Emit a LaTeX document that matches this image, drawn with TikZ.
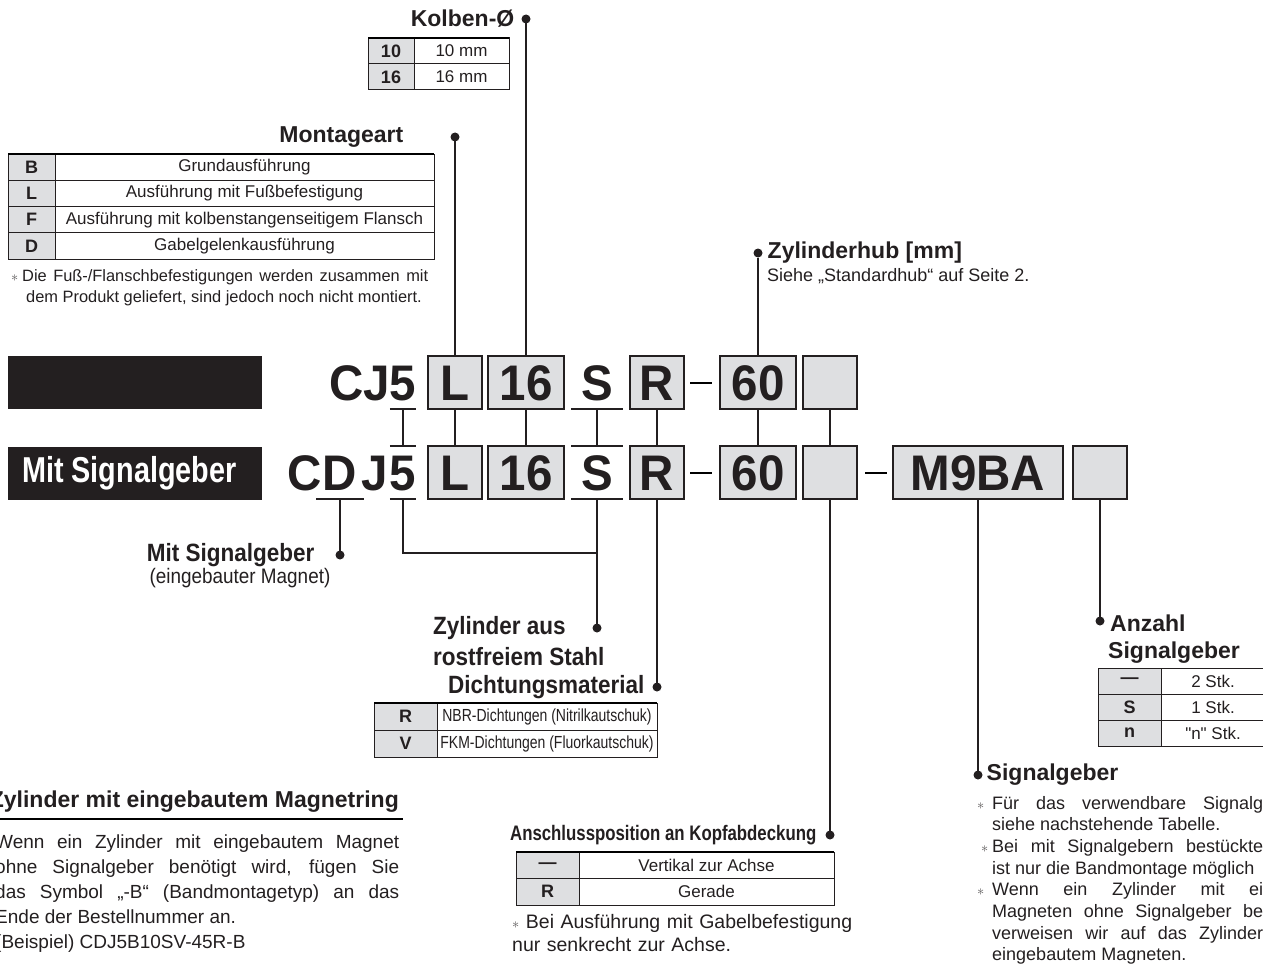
\documentclass[tikz,border=0pt]{standalone}
\usepackage{fontspec}
\setmainfont{Liberation Sans}
\newfontfamily\codefont[FakeStretch=0.95]{Liberation Sans}
\newfontfamily\condfont[FakeStretch=0.9]{Liberation Sans}
\newfontfamily\narrowfont[FakeStretch=0.8]{Liberation Sans}
\newfontfamily\rawfont[Ligatures=ResetAll]{Liberation Sans}
\usetikzlibrary{positioning}
\definecolor{ink}{HTML}{231F20}
\definecolor{boxgray}{HTML}{DEDFE1}

\begin{document}
\begin{tikzpicture}[
    x = 1pt,
    y = -1pt,
    text = ink,
    codechar/.style = {inner sep=0pt, outer sep=0pt, minimum height=53pt,
    text height=36pt, text depth=0pt,
    font=\codefont\bfseries\fontsize{50}{50}\selectfont},
    codebox/.style = {codechar, draw=ink, fill=boxgray, line width=1.6pt},
    lead/.style = {draw=ink, line width=1.6pt},
    knob/.style = {circle, fill=ink, minimum size=9pt, inner sep=0pt, outer sep=0pt},
    heading/.style = {inner sep=0pt, font=\bfseries\fontsize{23}{28}\selectfont},
    condhead/.style = {inner sep=0pt, font=\condfont\bfseries\fontsize{25}{29}\selectfont},
    keycell/.style = {draw=ink, fill=boxgray, line width=1pt, inner sep=0pt,
    outer sep=0pt, anchor=north west, font=\bfseries\fontsize{18}{18}\selectfont},
    valcell/.style = {draw=ink, line width=1pt, inner sep=0pt, outer sep=0pt,
    anchor=north west, font=\fontsize{17}{17}\selectfont},
    remark/.style = {inner sep=0pt, align=justify, anchor=base west},
]
\useasboundingbox (0,0) rectangle (1263,971);
\clip (0,0) rectangle (1263,971);

\node[codechar, anchor=east] (cj) at (390,382.5) {CJ};
\node[codechar, minimum width=26pt] (cj5) at (403,382.5) {5};
\node[codebox, minimum width=54pt] (l1) at (455,382.5) {L};
\node[codebox, minimum width=76pt] (d1) at (526,382.5) {16};
\node[codechar, minimum width=52pt] (s1) at (597,382.5) {S};
\node[codebox, minimum width=54pt] (r1) at (657,382.5) {R};
\node[codebox, minimum width=76pt] (h1) at (758,382.5) {60};
\node[codebox, minimum width=54pt] (e1) at (830,382.5) {};
\draw [line width=2.5pt] (690,383) -- (712,383);

\node[codechar, anchor=east] (c2) at (322,472.5) {C};
\node[codechar, minimum width=48pt] (cd2) at (340,472.5) {D};
\node[codechar] (j2) at (375,472.5) {J};
\node[codechar, minimum width=26pt] (cdj5) at (403,472.5) {5};
\node[codebox, minimum width=54pt] (l2) at (455,472.5) {L};
\node[codebox, minimum width=76pt] (d2) at (526,472.5) {16};
\node[codechar, minimum width=52pt] (s2) at (597,472.5) {S};
\node[codebox, minimum width=54pt] (r2) at (657,472.5) {R};
\node[codebox, minimum width=76pt] (h2) at (758,472.5) {60};
\node[codebox, minimum width=54pt] (e2) at (830,472.5) {};
\node[codebox, minimum width=170pt] (m9ba) at (978,472.5) {M9BA};
\node[codebox, minimum width=54pt] (n2) at (1100,472.5) {};
\draw [line width=2.5pt] (690,473) -- (712,473);
\draw [line width=2.5pt] (865,473) -- (887,473);

\draw[lead] (cj5.south west) -- (cj5.south east);
\draw[lead] (s1.south west) -- (s1.south east);
\draw[lead] (cdj5.north west) -- (cdj5.north east);
\draw[lead] (s2.north west) -- (s2.north east);
\draw[lead] (cd2.south west) -- (cd2.south east);
\draw[lead] (cdj5.south west) -- (cdj5.south east);
\draw[lead] (s2.south west) -- (s2.south east);

\draw[lead] (cj5.south) -- (cdj5.north);
\draw[lead] (l1.south) -- (l2.north);
\draw[lead] (d1.south) -- (d2.north);
\draw[lead] (s1.south) -- (s2.north);
\draw[lead] (r1.south) -- (r2.north);
\draw[lead] (h1.south) -- (h2.north);
\draw[lead] (e1.south) -- (e2.north);

\node[fill=ink, minimum width=254pt, minimum height=53pt, inner sep=0pt,
    anchor=north west] (plain) at (8,356) {};
\node[fill=ink, text=white, text width=226pt, inner xsep=14pt, inner ysep=0pt,
    minimum height=53pt, align=left, anchor=north west,
    font=\narrowfont\bfseries\fontsize{36}{36}\selectfont] (withsw) at (8,447) {Mit\hspace{8pt}Signalgeber};

\node[knob] (kolb) at (526,19) {};
\node[heading, left=7pt of kolb] (kolbtxt) {Kolben-Ø};
\draw[lead] (kolb) -- (d1.north);
\node[keycell, minimum width=46pt, minimum height=26pt] (k10) at (368,38) {10};
\node[valcell, minimum width=95pt, minimum height=26pt] (v10) at (414,38) {10 mm};
\node[keycell, minimum width=46pt, minimum height=26pt] (k16) at (368,64) {16};
\node[valcell, minimum width=95pt, minimum height=26pt] (v16) at (414,64) {16 mm};
\draw [line width=2pt] (k10.north west) -- (v10.north east);

\node[knob] (mont) at (455,137) {};
\node[heading, left=47pt of mont] (monttxt) {Montageart};
\draw[lead] (mont) -- (l1.north);
\node[keycell, minimum width=47pt, minimum height=26.25pt] (kb) at (8,154) {B};
\node[valcell, minimum width=379pt, minimum height=26.25pt] (vb) at (55,154) {Grundausführung};
\node[keycell, minimum width=47pt, minimum height=26.25pt] (kl) at (8,180.25) {L};
\node[valcell, minimum width=379pt, minimum height=26.25pt] (vl) at (55,180.25) {Ausführung mit Fußbefestigung};
\node[keycell, minimum width=47pt, minimum height=26.25pt] (kf) at (8,206.5) {F};
\node[valcell, minimum width=379pt, minimum height=26.25pt] (vf) at (55,206.5) {Ausführung mit kolbenstangenseitigem Flansch};
\node[keycell, minimum width=47pt, minimum height=26.25pt] (kd) at (8,232.75) {D};
\node[valcell, minimum width=379pt, minimum height=26.25pt] (vd) at (55,232.75) {Gabelgelenkausführung};
\draw [line width=2pt] (kb.north west) -- (vb.north east);
\node[remark, text width=406pt, font=\fontsize{16.4}{21}\selectfont] (montnote) at (22,281)
    {\leavevmode\llap{{\color{ink!75}\fontsize{14}{14}\selectfont$\ast$}\hspace{4pt}}Die Fuß-/Flanschbefestigungen werden zusammen mit\linebreak \hspace*{4pt}dem Produkt geliefert, sind jedoch noch nicht montiert.};

\node[knob] (hub) at (758,253) {};
\node[heading, right=5pt of hub] (hubtxt) {Zylinderhub [mm]};
\node[inner sep=0pt, anchor=base west, font=\fontsize{18}{18}\selectfont] (hubnote) at (767,281)
    {Siehe „Standardhub“ auf Seite 2.};
\draw[lead] (hub) -- (h1.north);

\node[knob] (sig) at (340,555) {};
\draw[lead] (cd2.south) -- (sig);
\node[condhead, left=21pt of sig] (sigtxt) {Mit Signalgeber};
\node[inner sep=0pt, font=\condfont\fontsize{21}{21}\selectfont] (sigsub) at (240,578) {(eingebauter Magnet)};

\coordinate (join) at (597,553);
\draw[lead] (cdj5.south) |- (join);
\node[knob] (steel) at (597,628) {};
\draw[lead] (s2.south) -- (steel);
\node[condhead, anchor=west] (steeltxt) at (433,628) {Zylinder aus};
\node[condhead, anchor=west] (steeltxt2) at (433,657) {rostfreiem Stahl};

\node[knob] (seal) at (657,687) {};
\draw[lead] (r2.south) -- (seal);
\node[condhead, left=8pt of seal] (sealtxt) {Dichtungsmaterial};
\node[keycell, minimum width=63pt, minimum height=27pt] (kr) at (374,703) {R};
\node[valcell, minimum width=220pt, minimum height=27pt,
    font=\narrowfont\fontsize{17.5}{17.5}\selectfont] (vr) at (437,703) {NBR-Dichtungen (Nitrilkautschuk)};
\node[keycell, minimum width=63pt, minimum height=27pt] (kv) at (374,730) {V};
\node[valcell, minimum width=220pt, minimum height=27pt,
    font=\narrowfont\fontsize{17.5}{17.5}\selectfont] (vv) at (437,730) {FKM-Dichtungen (Fluorkautschuk)};
\draw [line width=2pt] (kr.north west) -- (vr.north east);

\node[knob] (port) at (830,835) {};
\draw[lead] (e2.south) -- (port);
\node[inner sep=0pt, left=9pt of port, font=\narrowfont\bfseries\fontsize{21}{21}\selectfont] (porttxt)
    {Anschlussposition an Kopfabdeckung};
\node[keycell, minimum width=63pt, minimum height=26.5pt] (kp1) at (516,852) {—};
\node[valcell, minimum width=255pt, minimum height=26.5pt] (vp1) at (579,852) {Vertikal zur Achse};
\node[keycell, minimum width=63pt, minimum height=26.5pt] (kp2) at (516,878.5) {R};
\node[valcell, minimum width=255pt, minimum height=26.5pt] (vp2) at (579,878.5) {Gerade};
\draw [line width=2pt] (kp1.north west) -- (vp1.north east);
\node[remark, text width=345pt, align=left, font=\fontsize{19.5}{23}\selectfont] (portnote) at (512,928)
    {{\color{ink!75}\fontsize{14}{14}\selectfont$\ast$} Bei Ausführung mit Gabelbefestigung\\nur senkrecht zur Achse.};

\node[knob] (count) at (1100,621) {};
\draw[lead] (n2.south) -- (count);
\node[heading, anchor=west] (counttxt) at (1110,623) {Anzahl};
\node[heading, anchor=west] (counttxt2) at (1108,653) {Signalgeber};
\node[keycell, minimum width=63pt, minimum height=26pt] (kc1) at (1098,668) {—};
\node[valcell, minimum width=104pt, minimum height=26pt] (vc1) at (1161,668) {2 Stk.};
\node[keycell, minimum width=63pt, minimum height=26pt] (kc2) at (1098,694) {S};
\node[valcell, minimum width=104pt, minimum height=26pt] (vc2) at (1161,694) {1 Stk.};
\node[keycell, minimum width=63pt, minimum height=26pt] (kc3) at (1098,720) {n};
\node[valcell, minimum width=104pt, minimum height=26pt] (vc3) at (1161,720) {\rawfont"n" Stk.};

\node[knob] (switch) at (978,775) {};
\draw[lead] (m9ba.south) -- (switch);
\node[heading, right=4pt of switch] (switchtxt) {Signalgeber};
\node[remark, text width=271pt, font=\fontsize{18}{21.7}\selectfont] (swnote1) at (992,809)
    {\leavevmode\llap{{\color{ink!75}\fontsize{14}{14}\selectfont$\ast$}\hspace{8pt}}Für das verwendbare Signalg\linebreak siehe nachstehende Tabelle.};
\node[remark, text width=271pt, font=\fontsize{18}{21.7}\selectfont] (swnote2) at (992,852.4)
    {\leavevmode\llap{{\color{ink!75}\fontsize{14}{14}\selectfont$\ast$}\hspace{4pt}}Bei mit Signalgebern bestückte\linebreak ist nur die Bandmontage möglich};
\node[remark, text width=271pt, font=\fontsize{18}{21.7}\selectfont] (swnote3) at (992,895.8)
    {\leavevmode\llap{{\color{ink!75}\fontsize{14}{14}\selectfont$\ast$}\hspace{8pt}}Wenn ein Zylinder mit ei\linebreak Magneten ohne Signalgeber be\linebreak verweisen wir auf das Zylinder\linebreak eingebautem Magneten.};

\node[heading, anchor=east] (magtitle) at (399,802) {Zylinder mit eingebautem Magnetring};
\draw [line width=2pt] (-1,819) -- (403,819);
\node[remark, text width=404pt, font=\fontsize{19}{25}\selectfont] (magnote) at (-5,848)
    {Wenn ein Zylinder mit eingebautem Magnet\linebreak ohne Signalgeber benötigt wird, fügen Sie\linebreak das Symbol „-B“ (Bandmontagetyp) an das\linebreak Ende der Bestellnummer an.\newline (Beispiel) CDJ5B10SV-45R-B};
\end{tikzpicture}
\end{document}
